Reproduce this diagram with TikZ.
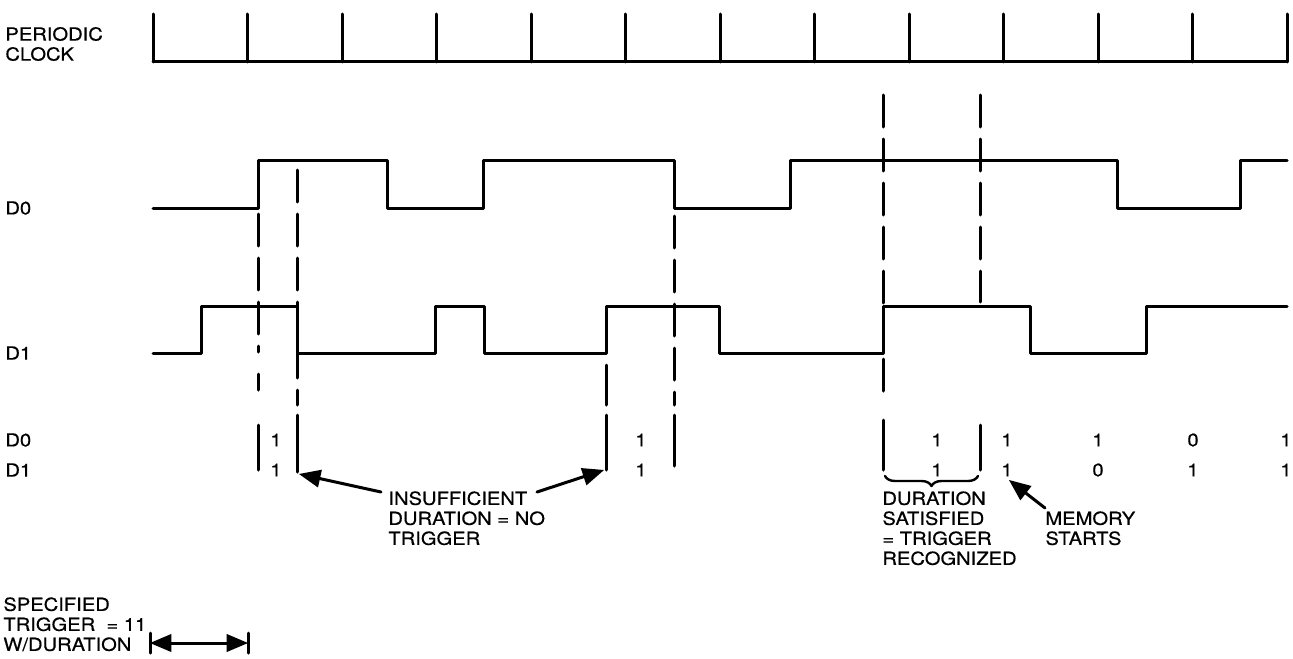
\documentclass[tikz,border=0pt]{standalone}
\usepackage{fontspec}
\setmainfont{TeX Gyre Heros}[FakeBold=0.5,FakeStretch=1.12]
\usepackage{tikz}
\tikzset{>=latex}
\usetikzlibrary{arrows}
\usetikzlibrary{decorations.pathreplacing}

\begin{document}
\begin{tikzpicture}[line cap=round,line join=round,>=triangle 45,x=0.5pt,y=-0.5pt,
	wave/.style={line width=1.5pt},
	guide/.style={line width=1.5pt,dash pattern=on 16pt off 6pt},
	lbl/.style={inner sep=0pt,align=left,font=\fontsize{9}{10}\selectfont}]
	\useasboundingbox (0,0) rectangle (1293,658);
	% clock
	\draw[wave] (153,62) -- (1287,62);
	\foreach \i in {0,...,12}
	\draw[wave] (153+94.5*\i,62) -- (153+94.5*\i,14);
	\node[lbl,anchor=west] (clk) at (5,44) {PERIODIC\\CLOCK};
	% D0 and D1
	\draw[wave] (153,208) -- (258,208) -- (258,160) -- (387,160) -- (387,208) -- (483,208) -- (483,160) -- (674,160) -- (674,208) -- (790,208) -- (790,160) -- (1117,160) -- (1117,208) -- (1240,208) -- (1240,160) -- (1287,160);
	\draw[wave] (153,353) -- (201,353) -- (201,306) -- (297,306) -- (297,353) -- (435,353) -- (435,306) -- (484,306) -- (484,353) -- (606,353) -- (606,306) -- (719,306) -- (719,353) -- (883,353) -- (883,306) -- (1030,306) -- (1030,353) -- (1146,353) -- (1146,306) -- (1287,306);
	\node[lbl,anchor=west] (wD0) at (5,208) {D0};
	\node[lbl,anchor=west] (wD1) at (5,353) {D1};
	% dashed guides
	\draw[guide] (258,214) -- (258,352);
	\draw[wave] (258,374) -- (258,390);
	\draw[guide] (297,170) -- (297,405);
	\draw[guide] (674,216) -- (674,405);
	\draw[guide] (883,95) -- (883,400);
	\draw[guide] (980,95) -- (980,302);
	\draw[wave] (606,365) -- (606,405);
	% sampled values
	\draw[wave] (258,425) -- (258,470);
	\draw[wave] (297,415) -- (297,472) coordinate (endA);
	\draw[wave] (606,415) -- (606,470) coordinate (endB);
	\draw[wave] (674,415) -- (674,466);
	\draw[wave] (883,420) -- (883,470);
	\draw[wave] (980,425) -- (980,470);
	\node[lbl,anchor=west] (tD0) at (5,440) {D0};
	\node[lbl,anchor=west] (tD1) at (5,470) {D1};
	\foreach \x/\a/\b [count=\k] in {276/1/1,641/1/1,937/1/1,1007/1/1,1098/1/0,1193/0/1,1286/1/1}
	{\node[lbl] (va\k) at (\x,440) {\a};
	\node[lbl] (vb\k) at (\x,470) {\b};}
	\draw[line width=1.2pt,decorate,decoration={brace,mirror,amplitude=5pt}] (885,476) -- (978,476);
	% notes
	\node[lbl,anchor=north west] (insuff) at (388,491) {INSUFFICIENT\\DURATION = NO\\TRIGGER};
	\node[lbl,anchor=north west] (satis) at (882,491) {DURATION\\SATISFIED\\= TRIGGER\\RECOGNIZED};
	\node[lbl,anchor=north west] (mem) at (1045,511) {MEMORY\\STARTS};
	\node[lbl,anchor=north west] (spec) at (3,597) {SPECIFIED\\TRIGGER \ = 11\\W/DURATION};
	\coordinate (tailA) at (381,492);
	\coordinate (tailB) at (537,492);
	\coordinate (tailM) at (1045,508);
	\coordinate (tipM) at (1009,480);
	\draw[wave,->] (tailA) -- ([shift={(1pt,-1pt)}]endA);
	\draw[wave,->] (tailB) -- ([xshift=-1pt]endB);
	\draw[wave,->] (tailM) -- (tipM);
	% duration bar
	\coordinate (durL) at (150,643);
	\coordinate (durR) at (248,643);
	\draw[wave] (150,633) -- (150,653);
	\draw[wave] (248,633) -- (248,653);
	\draw[wave,<->] (durL) -- (durR);
\end{tikzpicture}
\end{document}
